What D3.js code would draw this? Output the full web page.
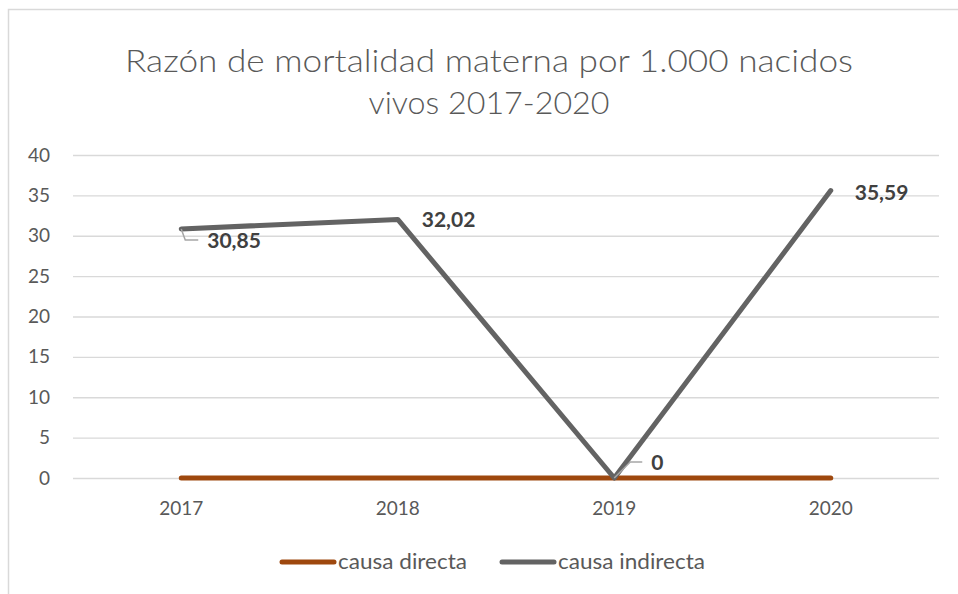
<!DOCTYPE html>
<html><head><meta charset="utf-8">
<script src="https://cdn.jsdelivr.net/npm/d3@7/dist/d3.min.js"></script>
<style>
html,body{margin:0;padding:0;background:#fff;}
svg{display:block;font-family:Lato,"Open Sans",sans-serif;}
</style></head>
<body>
<svg id="c" width="958" height="594"></svg>
<script>
const years = ["2017","2018","2019","2020"];
const causaDirecta = [0,0,0,0];
const causaIndirecta = [30.85,32.02,0,35.59];
const labelsIndirecta = ["30,85","32,02","0","35,59"];
const yTicks = [0,5,10,15,20,25,30,35,40];
const titleLines = ["Razón de mortalidad materna por 1.000 nacidos","vivos 2017-2020"];
const seriesNames = ["causa directa","causa indirecta"];

(function(){
const svg = d3.select("#c");
const pL = 73, pR = 939, pT = 155, pB = 478;
const x = d3.scaleBand().domain(years).range([pL,pR]).padding(0);
const y = d3.scaleLinear().domain([0,40]).range([pB,pT]);
const cx = d => x(d) + x.bandwidth()/2;

svg.append("rect").attr("x",8.5).attr("y",9.5).attr("width",980).attr("height",620)
  .attr("fill","#fff").attr("stroke","#d9d9d9").attr("stroke-width",1.5);

// title
svg.append("g").selectAll("text").data(titleLines).join("text")
  .attr("x",489).attr("y",(d,i)=>72+i*42).attr("text-anchor","middle")
  .attr("font-size",31).attr("font-weight",300).attr("fill","#595959")
  .attr("textLength",(d,i)=>i===0?728:241)
  .attr("lengthAdjust","spacingAndGlyphs")
  .text(d=>d);

// y axis with gridlines
const ga = svg.append("g").attr("transform",`translate(${pL},0)`)
  .call(d3.axisLeft(y).tickValues(yTicks).tickSize(-(pR-pL)).tickPadding(23));
ga.select(".domain").remove();
ga.selectAll("line").attr("stroke","#d9d9d9").attr("stroke-width",1.3);
ga.selectAll("text").attr("fill","#595959").attr("font-size",19).attr("font-family","Lato,sans-serif");

// x axis labels
svg.append("g").selectAll("text").data(years).join("text")
  .attr("x",d=>cx(d)).attr("y",pB+37).attr("text-anchor","middle")
  .attr("font-size",19).attr("fill","#595959").text(d=>d);

const line = d3.line().x((d,i)=>cx(years[i])).y(d=>y(d));

svg.append("path").datum(causaDirecta).attr("d",line).attr("fill","none")
  .attr("stroke","#9e480e").attr("stroke-width",5).attr("stroke-linecap","round").attr("stroke-linejoin","round");
svg.append("path").datum(causaIndirecta).attr("d",line).attr("fill","none")
  .attr("stroke","#636363").attr("stroke-width",5).attr("stroke-linecap","round").attr("stroke-linejoin","round");

// leader lines
const leaders = [
  {i:0, pts:[[0,0],[4,11],[17,11]]},
  {i:2, pts:[[0,0],[16,-16],[28,-16]]}
];
leaders.forEach(l=>{
  const px = cx(years[l.i]), py = y(causaIndirecta[l.i]);
  svg.append("path").attr("d", d3.line()(l.pts.map(p=>[px+p[0],py+p[1]])))
    .attr("fill","none").attr("stroke","#a6a6a6").attr("stroke-width",1.5);
});

// data labels
const labelOff = [[26,19],[24,8],[37,-8],[24,9]];
svg.append("g").selectAll("text").data(causaIndirecta).join("text")
  .attr("x",(d,i)=>cx(years[i])+labelOff[i][0]).attr("y",(d,i)=>y(d)+labelOff[i][1])
  .attr("font-size",21).attr("font-weight","bold").attr("fill","#404040")
  .text((d,i)=>labelsIndirecta[i]);

// legend
const legColors = ["#9e480e","#636363"];
const legX = [282,502];
const legW = [129,147];
const lg = svg.append("g");
seriesNames.forEach((n,i)=>{
  lg.append("line").attr("x1",legX[i]).attr("x2",legX[i]+52).attr("y1",562).attr("y2",562)
    .attr("stroke",legColors[i]).attr("stroke-width",5).attr("stroke-linecap","round");
  lg.append("text").attr("x",legX[i]+56).attr("y",569).attr("font-size",22).attr("fill","#595959")
    .attr("textLength",legW[i]).attr("lengthAdjust","spacingAndGlyphs").text(n);
});
})();
</script>
</body></html>
